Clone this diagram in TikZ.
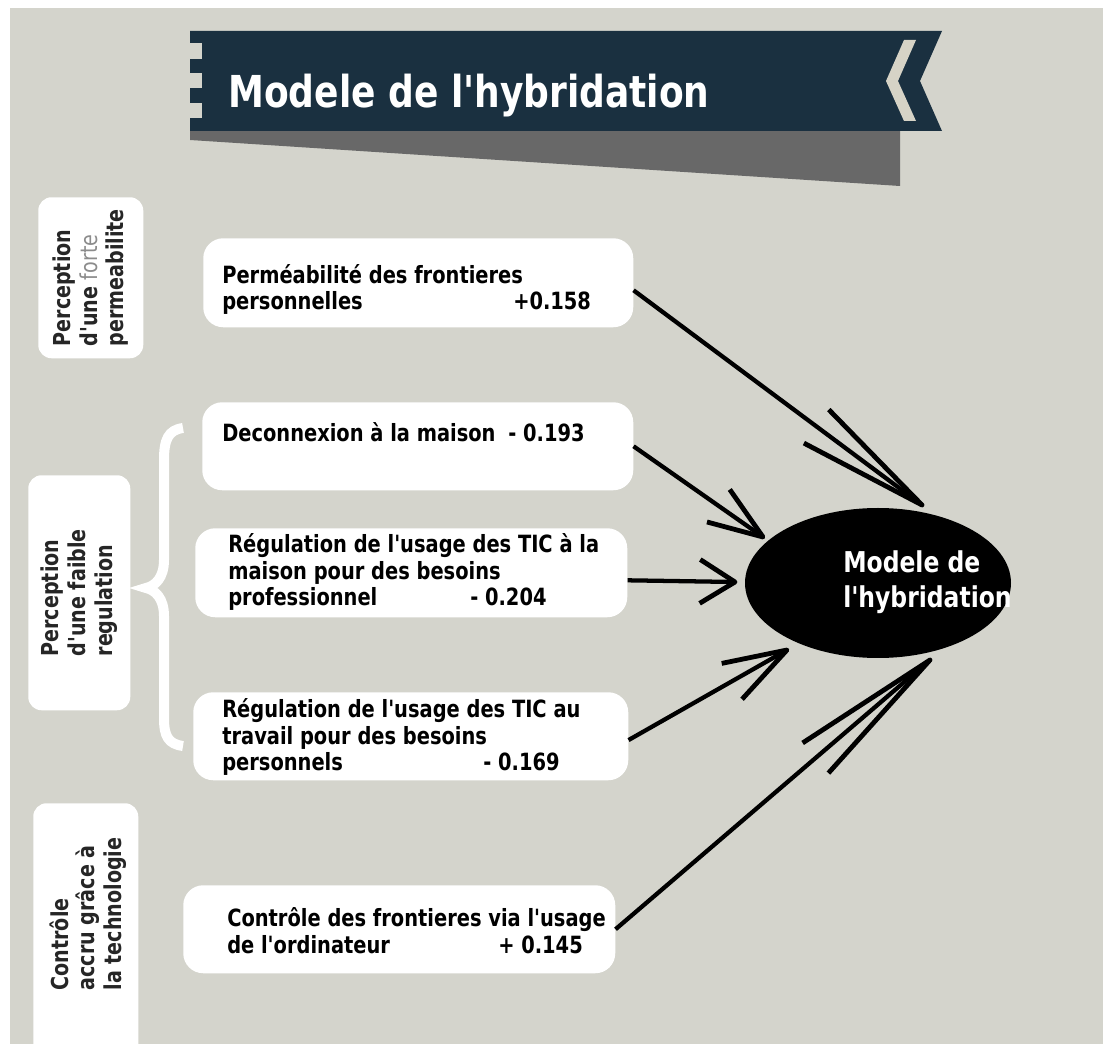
\documentclass[tikz,border=0pt]{standalone}
\usepackage{fontspec}
\usetikzlibrary{shapes.geometric,calc}
\newfontfamily\cf{DejaVu Sans Condensed}[FakeStretch=0.91]
\definecolor{bg}{HTML}{D4D4CC}
\definecolor{navy}{HTML}{1A3040}
\definecolor{shadowgray}{HTML}{686868}
\definecolor{chev}{HTML}{D6D3C6}
\definecolor{fgray}{HTML}{8C8C8C}
\newcommand\arrowto[4]{%
  \draw[conn] (#1) -- (#2);
  \draw[barb] ($(#2)!#3!#4:(#1)$) -- (#2) -- ($(#2)!#3!-#4:(#1)$);}
\begin{document}
\begin{tikzpicture}[x=0.75pt,y=-0.75pt,
  wbox/.style={fill=white, draw=none, rounded corners=15pt, inner sep=0pt, anchor=north west},
  lbox/.style={fill=white, draw=none, rounded corners=10pt, inner sep=0pt, anchor=north west},
  btext/.style={font=\cf\bfseries\fontsize{17.8}{20}\selectfont, align=left, anchor=base west, inner sep=0pt, text=black},
  ltext/.style={font=\cf\bfseries\fontsize{17.5}{20}\selectfont, align=left, rotate=90, inner sep=0pt, text=black!85},
  conn/.style={line width=3.2pt},
  barb/.style={line width=3.6pt, line join=round},
]
\useasboundingbox (0,0) rectangle (1108,1044);
\fill[white] (0,0) rectangle (1108,1044);
\fill[bg] (10,8) rectangle (1103,1044);

% banner
\fill[shadowgray] (190,131) -- (900,131) -- (900,186) -- (190,140) -- cycle;
\fill[navy] (190,31) -- (942,31) -- (920,81) -- (942,131) -- (190,131) -- cycle;
\fill[bg] (190,43) rectangle (202,59);
\fill[bg] (190,73) rectangle (202,88);
\fill[bg] (190,103) rectangle (202,118);
\fill[chev] (904,40) -- (916,40) -- (898,81) -- (916,121) -- (904,121) -- (886,81) -- cycle;
\node[font=\cf\bfseries\fontsize{33}{36}\selectfont, text=white, anchor=base west, inner sep=0pt] (title) at (228,108) {Modele de l'hybridation};

% left category boxes
\node[lbox, minimum width=78.75pt, minimum height=120.75pt] (la) at (38,197) {};
\node[ltext] (lat) at (la.center) {Perception\\d'une {\mdseries\color{fgray}forte}\\permeabilite};
\node[lbox, minimum width=76.5pt, minimum height=176.25pt] (lb) at (28,475) {};
\node[ltext] (lbt) at (lb.center) {Perception\\d'une faible\\regulation};
\begin{scope}
\clip (0,0) rectangle (1108,1044);
\node[lbox, minimum width=78.75pt, minimum height=192.75pt] (lc) at (33,803) {};
\end{scope}
\node[ltext] (lct) at (88,914) {Contrôle\\accru grâce à\\la technologie};

% brace
\draw[white, line width=7.5pt] (183,428) .. controls (168,430) and (164,440) .. (164,460) -- (164,560)
  .. controls (164,578) and (155,586) .. (146,588)
  .. controls (155,590) and (164,598) .. (164,616) -- (164,718)
  .. controls (164,736) and (168,744) .. (183,746);

% right boxes
\node[wbox, minimum width=322.5pt, minimum height=66.75pt] (b1) at (203,238) {};
\node[wbox, minimum width=323.25pt, minimum height=66pt] (b2) at (202,402) {};
\node[wbox, minimum width=324pt, minimum height=66.75pt] (b3) at (195,528) {};
\node[wbox, minimum width=326.25pt, minimum height=66pt] (b4) at (193,692) {};
\node[wbox, minimum width=324pt, minimum height=66pt] (b5) at (183,885) {};

\node[btext] (t1) at (222,310) {Perméabilité des frontieres\\\makebox[218.25pt][l]{personnelles}+0.158};
\node[btext] (t2) at (222,442) {\makebox[214.5pt][l]{Deconnexion à la maison}- 0.193};
\node[btext] (t3) at (228,606) {Régulation de l'usage des TIC à la\\maison pour des besoins\\\makebox[181.5pt][l]{professionnel}- 0.204};
\node[btext] (t4) at (222,771) {Régulation de l'usage des TIC au\\travail pour des besoins\\\makebox[195.75pt][l]{personnels}- 0.169};
\node[btext] (t5) at (227,953) {Contrôle des frontieres via l'usage\\\makebox[203.25pt][l]{de l'ordinateur}+ 0.145};

% ellipse
\node[ellipse, fill=black, minimum width=199.5pt, minimum height=112.5pt, inner sep=0pt] (ell) at (878,583) {};
\node[font=\cf\bfseries\fontsize{21.5}{26.25}\selectfont, text=white, align=left, anchor=base west, inner sep=0pt] (ellt) at (843,608) {Modele de\\l'hybridation};

% arrows
\coordinate (tp1) at (922,505);
\coordinate (tp2) at (763,537);
\coordinate (tp3) at (735,582);
\coordinate (tp4) at (787,650);
\coordinate (tp5) at (930,660);
\arrowto{b1.-2}{tp1}{100pt}{9}
\arrowto{b2.east}{tp2}{43.5pt}{20}
\arrowto{b3.-2.65}{tp3}{31pt}{32}
\arrowto{b4.-1.8}{tp4}{50pt}{18}
\arrowto{b5.east}{tp5}{114pt}{7.5}
\end{tikzpicture}
\end{document}
